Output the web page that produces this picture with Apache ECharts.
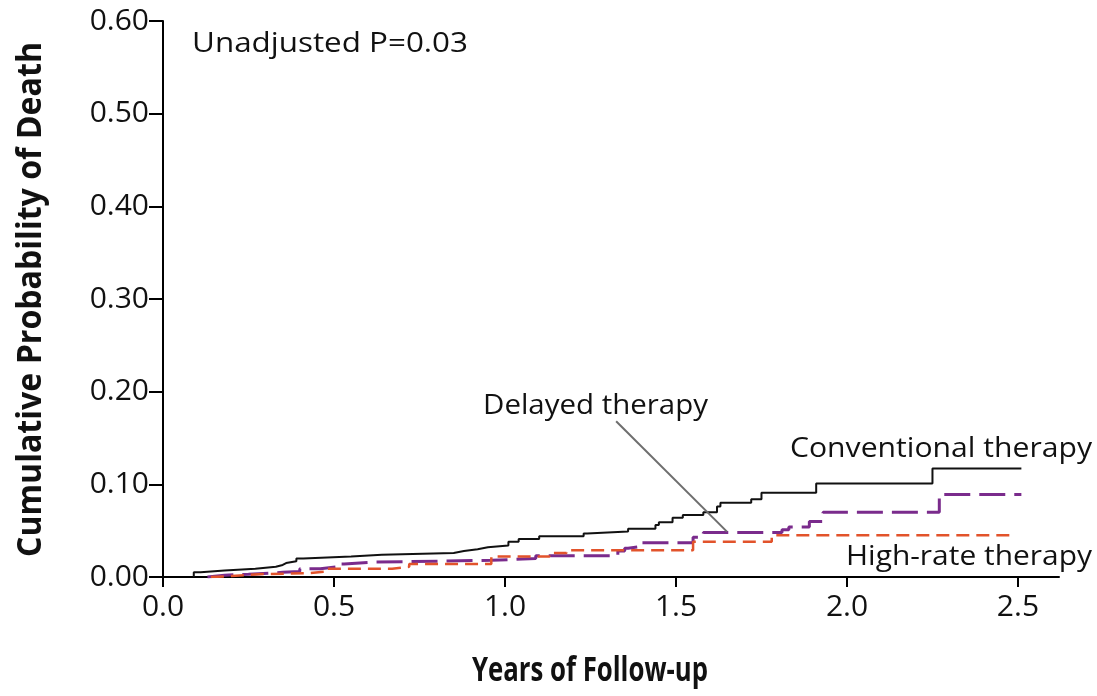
<!DOCTYPE html>
<html>
<head>
<meta charset="utf-8">
<script src="https://cdn.jsdelivr.net/npm/echarts@6/dist/echarts.min.js"></script>
<style>
  html, body { margin: 0; padding: 0; background: #fff; }
  #chart { width: 1097px; height: 696px; }
</style>
</head>
<body>
<div id="chart"></div>
<script>
// Kaplan-Meier style cumulative mortality, step curves (time in years)
const conventionalT = [0.09, 0.11, 0.18, 0.27, 0.33, 0.35, 0.36, 0.39, 0.41, 0.55, 0.64, 0.85, 0.88, 0.92, 0.95, 1.01, 1.04, 1.10, 1.23, 1.24, 1.36, 1.44, 1.45, 1.49, 1.52, 1.58, 1.62, 1.63, 1.72, 1.75, 1.91, 2.25, 2.51];
const conventionalP = [0.005, 0.007, 0.009, 0.011, 0.013, 0.015, 0.017, 0.020, 0.022, 0.024, 0.026, 0.028, 0.030, 0.032, 0.034, 0.038, 0.041, 0.044, 0.047, 0.049, 0.052, 0.056, 0.059, 0.064, 0.067, 0.070, 0.076, 0.080, 0.084, 0.091, 0.101, 0.117, 0.117];

const delayedT = [0.13, 0.18, 0.25, 0.35, 0.40, 0.46, 0.51, 0.53, 0.61, 0.96, 1.09, 1.33, 1.35, 1.36, 1.40, 1.55, 1.58, 1.81, 1.83, 1.89, 1.93, 2.27, 2.51];
const delayedP = [0.002, 0.003, 0.005, 0.006, 0.009, 0.011, 0.014, 0.016, 0.018, 0.020, 0.023, 0.028, 0.031, 0.033, 0.037, 0.043, 0.048, 0.051, 0.054, 0.060, 0.070, 0.089, 0.089];

const highRateT = [0.14, 0.20, 0.28, 0.42, 0.48, 0.67, 0.72, 0.96, 1.13, 1.18, 1.55, 1.78, 2.48];
const highRateP = [0.001, 0.003, 0.004, 0.006, 0.009, 0.011, 0.014, 0.022, 0.026, 0.029, 0.038, 0.045, 0.045];

// Axis ticks
const xTicks = [0, 0.5, 1.0, 1.5, 2.0, 2.5];
const yTicks = [0, 0.1, 0.2, 0.3, 0.4, 0.5, 0.6];

// Leader line from the "Delayed therapy" label to its curve (data coords)
const leaderLine = [[1.325, 0.168], [1.649, 0.049]];

const FONT = '"Open Sans", "DejaVu Sans", sans-serif';

// Each curve rises vertically from zero at its first event time
function steps(ts, ps) {
  const pts = [[ts[0], 0]];
  for (let i = 0; i < ts.length; i++) pts.push([ts[i], ps[i]]);
  return pts;
}

// Horizontal scale that makes a text run span the given width
const measureCtx = document.createElement('canvas').getContext('2d');
function fitScale(text, font, width) {
  measureCtx.font = font;
  return width / measureCtx.measureText(text).width;
}

function label(text, x, y, font, width, extra) {
  return Object.assign({
    type: 'text', x: x, y: y,
    scaleX: fitScale(text, font, width),
    style: { text: text, font: font, fill: '#111', align: 'left', verticalAlign: 'middle' }
  }, extra || {});
}

const NOTE_FONT = '27px ' + FONT;
const TITLE_FONT = 'bold 34px ' + FONT;

const chart = echarts.init(document.getElementById('chart'), null, { renderer: 'canvas' });

chart.setOption({
  backgroundColor: '#ffffff',
  animation: false,
  grid: { left: 163, right: 38, top: 21, bottom: 119, containLabel: false },
  xAxis: {
    type: 'value',
    min: 0,
    max: 2.62,
    axisLine: { show: true, lineStyle: { color: '#000', width: 2 } },
    axisTick: { show: true, customValues: xTicks, length: 10, lineStyle: { color: '#000', width: 2 } },
    axisLabel: {
      customValues: xTicks,
      margin: 15,
      color: '#111',
      fontFamily: FONT,
      fontSize: 30,
      formatter: v => v.toFixed(1)
    },
    splitLine: { show: false }
  },
  yAxis: {
    type: 'value',
    min: 0,
    max: 0.6,
    interval: 0.1,
    axisLine: { show: true, lineStyle: { color: '#000', width: 2 } },
    axisTick: { show: true, length: 14, lineStyle: { color: '#000', width: 2 } },
    axisLabel: {
      margin: 14,
      color: '#111',
      fontFamily: FONT,
      fontSize: 30,
      formatter: v => v.toFixed(2)
    },
    splitLine: { show: false }
  },
  series: [
    {
      name: 'Conventional therapy',
      type: 'line',
      step: 'end',
      symbol: 'none',
      z: 4,
      data: steps(conventionalT, conventionalP),
      lineStyle: { color: '#111', width: 2 }
    },
    {
      name: 'Delayed therapy',
      type: 'line',
      step: 'end',
      symbol: 'none',
      z: 3,
      data: steps(delayedT, delayedP),
      lineStyle: { color: '#7a2b8c', width: 3, type: [26, 9] }
    },
    {
      name: 'High-rate therapy',
      type: 'line',
      step: 'end',
      symbol: 'none',
      z: 3,
      data: steps(highRateT, highRateP),
      lineStyle: { color: '#e2532b', width: 2.5, type: [13, 7] }
    },
    {
      name: 'leader',
      type: 'line',
      symbol: 'none',
      z: 5,
      data: leaderLine,
      lineStyle: { color: '#6e6e6e', width: 2 }
    }
  ],
  graphic: [
    label('Unadjusted P=0.03', 192, 44, NOTE_FONT, 276),
    label('Delayed therapy', 483, 406, NOTE_FONT, 225),
    label('Conventional therapy', 790, 449, NOTE_FONT, 302),
    label('High-rate therapy', 846, 557, NOTE_FONT, 246),
    label('Years of Follow-up', 472, 671, TITLE_FONT, 236),
    label('Cumulative Probability of Death', 31, 557, TITLE_FONT, 515, { rotation: Math.PI / 2 })
  ]
});
</script>
</body>
</html>
